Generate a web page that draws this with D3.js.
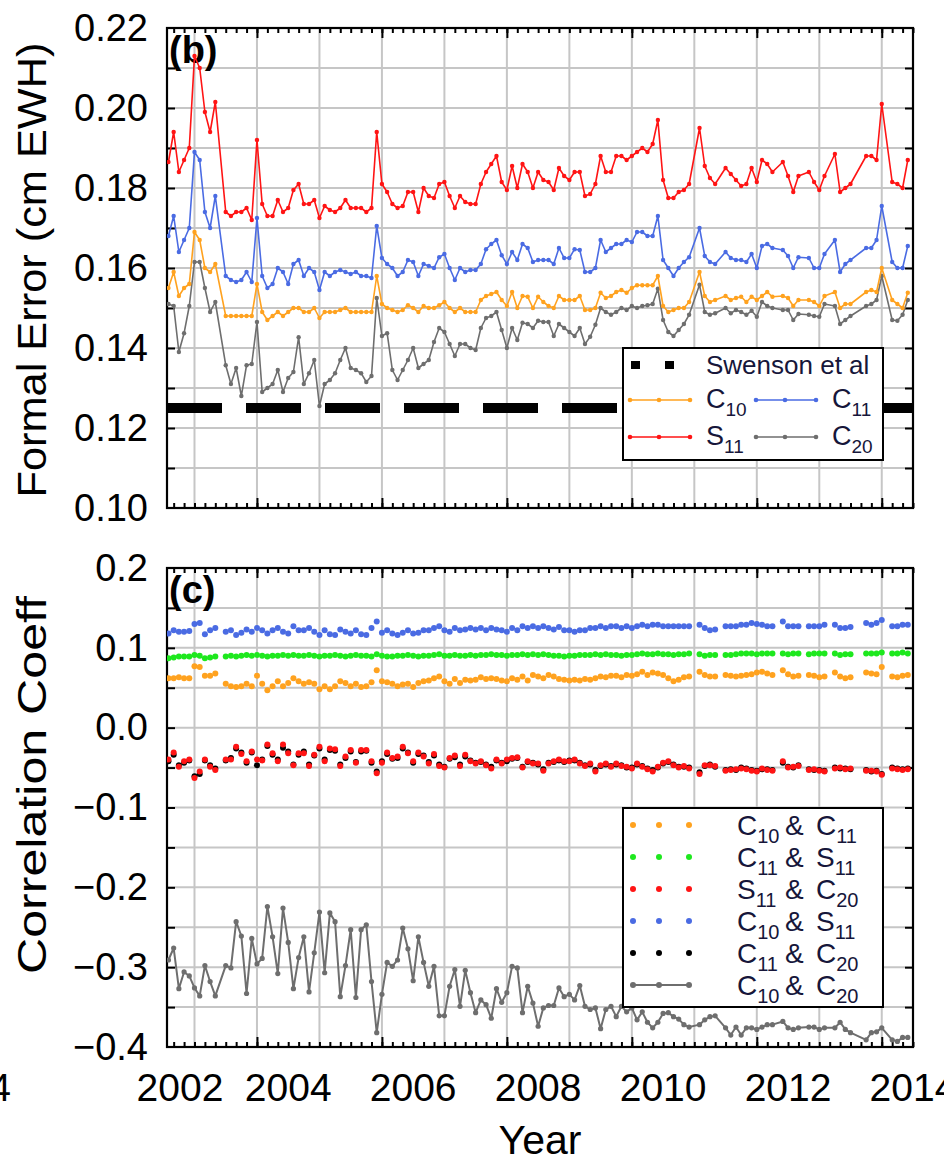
<!DOCTYPE html>
<html lang="en">
<head>
  <meta charset="UTF-8">
  <title>Formal error and correlation coefficients</title>
  <script src="https://d3js.org/d3.v7.min.js"></script>
  <style>
    body { margin: 0; background: #fff; }
    svg text { font-family: "Liberation Sans", Arial, sans-serif; }
  </style>
</head>
<body>
<svg width="944" height="1161"></svg>
<script>
  // GRACE months shown (gaps are the missing months)
  var months = [
    '2002-08','2002-09','2002-10','2002-11','2002-12',
    '2003-01','2003-02','2003-03','2003-04','2003-05','2003-07','2003-08','2003-09','2003-10','2003-11','2003-12',
    '2004-01','2004-02','2004-03','2004-04','2004-05','2004-06','2004-07','2004-08','2004-09','2004-10','2004-11','2004-12',
    '2005-01','2005-02','2005-03','2005-04','2005-05','2005-06','2005-07','2005-08','2005-09','2005-10','2005-11','2005-12',
    '2006-01','2006-02','2006-03','2006-04','2006-05','2006-06','2006-07','2006-08','2006-09','2006-10','2006-11','2006-12',
    '2007-01','2007-02','2007-03','2007-04','2007-05','2007-06','2007-07','2007-08','2007-09','2007-10','2007-11','2007-12',
    '2008-01','2008-02','2008-03','2008-04','2008-05','2008-06','2008-07','2008-08','2008-09','2008-10','2008-11','2008-12',
    '2009-01','2009-02','2009-03','2009-04','2009-05','2009-06','2009-07','2009-08','2009-09','2009-10','2009-11','2009-12',
    '2010-01','2010-02','2010-03','2010-04','2010-05','2010-06','2010-07','2010-08','2010-09','2010-10','2010-11','2010-12',
    '2011-02','2011-03','2011-04','2011-05','2011-07','2011-08','2011-09','2011-10','2011-11','2011-12',
    '2012-01','2012-02','2012-03','2012-04','2012-06','2012-07','2012-08','2012-09','2012-11','2012-12',
    '2013-01','2013-02','2013-04','2013-05','2013-06','2013-07','2013-10','2013-11','2013-12',
    '2014-01','2014-03','2014-04','2014-05','2014-06'
  ];

  // panel (b): formal error, cm EWH
  var errS11 = [
    .1865,.194,.184,.187,.190,.213,.210,.199,.194,.2015,
    .174,.173,.174,.174,.175,.172,.192,.176,.173,.173,
    .177,.174,.175,.1795,.181,.176,.176,.177,.1725,.1755,
    .1745,.174,.175,.177,.175,.175,.175,.174,.175,.194,
    .181,.179,.176,.175,.1755,.179,.179,.174,.180,.178,
    .1775,.181,.1815,.178,.175,.178,.1765,.176,.176,.181,
    .184,.186,.188,.1815,.1795,.1855,.180,.186,.184,.180,
    .184,.182,.1815,.1795,.185,.183,.182,.184,.184,.178,
    .1785,.181,.188,.184,.184,.188,.188,.187,.188,.189,
    .190,.189,.191,.197,.182,.1775,.1775,.179,.1795,.181,
    .195,.1855,.1825,.181,.185,.1835,.182,.1805,.181,.185,
    .1815,.187,.186,.184,.1865,.183,.179,.183,.184,.1815,
    .1795,.183,.1885,.179,.180,.181,.188,.188,.187,.201,
    .1815,.181,.180,.187
  ];
  var errC11 = [
    .168,.173,.164,.167,.170,.189,.187,.174,.170,.178,
    .158,.157,.1565,.157,.159,.1565,.1725,.158,.155,.156,
    .160,.159,.156,.161,.162,.158,.160,.159,.1545,.159,
    .158,.159,.1595,.159,.1585,.159,.158,.158,.1575,.1705,
    .1625,.161,.160,.158,.159,.162,.1615,.158,.161,.1605,
    .160,.1627,.1635,.160,.157,.160,.159,.1595,.1595,.161,
    .1647,.166,.167,.1632,.161,.164,.162,.166,.165,.1615,
    .162,.162,.162,.161,.165,.1625,.1625,.1647,.1645,.159,
    .159,.160,.167,.164,.165,.166,.166,.167,.1665,.169,
    .169,.168,.168,.173,.162,.160,.158,.160,.1615,.1627,
    .170,.163,.1615,.161,.164,.1625,.162,.162,.1615,.1635,
    .160,.1655,.166,.165,.1645,.163,.160,.1627,.1625,.160,
    .160,.1635,.167,.159,.161,.162,.165,.165,.167,.1755,
    .1615,.160,.160,.1655
  ];
  var errC10 = [
    .155,.159,.153,.155,.156,.169,.167,.160,.159,.161,
    .148,.148,.148,.148,.148,.148,.156,.149,.147,.148,
    .149,.148,.149,.150,.150,.149,.149,.150,.1475,.149,
    .149,.149,.1495,.150,.149,.149,.149,.149,.149,.158,
    .151,.150,.1495,.149,.1495,.1507,.150,.149,.1505,.150,
    .150,.1507,.1515,.150,.149,.150,.149,.149,.149,.152,
    .153,.1535,.154,.152,.1505,.154,.150,.153,.1528,.150,
    .1528,.1515,.1505,.150,.153,.152,.152,.152,.153,.1495,
    .1495,.150,.1538,.1525,.153,.154,.1545,.1538,.155,.1557,
    .1557,.1557,.1557,.158,.1505,.149,.1495,.150,.150,.1515,
    .159,.153,.1515,.152,.153,.152,.1525,.1528,.1515,.1528,
    .152,.153,.154,.1528,.153,.1525,.1505,.152,.152,.1515,
    .1505,.153,.154,.150,.151,.151,.154,.1545,.154,.160,
    .152,.151,.150,.1538
  ];
  var errC20 = [
    .151,.1505,.139,.1437,.1505,.1615,.1615,.155,.149,.1515,
    .1357,.131,.135,.128,.1357,.136,.1465,.129,.130,.131,
    .1345,.129,.1325,.134,.1427,.131,.1337,.137,.1255,.131,
    .132,.1337,.137,.140,.135,.1345,.1337,.1315,.133,.1525,
    .143,.1437,.1345,.132,.1345,.137,.140,.135,.136,.137,
    .1415,.145,.144,.141,.138,.141,.141,.140,.1395,.145,
    .1475,.148,.149,.1445,.140,.145,.142,.1463,.146,.145,
    .1468,.1465,.1465,.143,.146,.145,.144,.143,.145,.141,
    .1428,.1458,.150,.149,.1483,.149,.150,.1495,.1505,.150,
    .1505,.1507,.151,.1548,.147,.144,.143,.1445,.146,.1483,
    .1558,.149,.1483,.1487,.150,.1487,.1495,.149,.1483,.1493,
    .1478,.1515,.1505,.150,.1495,.1495,.147,.1485,.1483,.148,
    .1478,.151,.1505,.146,.147,.148,.1505,.151,.152,.158,
    .147,.1468,.1483,.152
  ];
  var swensonError = 0.125;

  // panel (c): correlation coefficients
  var corC10C11 = [
    0.062,0.062,0.063,0.062,0.062,0.077,0.076,0.065,0.065,0.068,
    0.055,0.052,0.051,0.052,0.055,0.052,0.065,0.055,0.047,0.052,
    0.058,0.052,0.056,0.062,0.058,0.055,0.057,0.055,0.048,0.052,
    0.048,0.052,0.058,0.056,0.052,0.055,0.051,0.052,0.057,0.072,
    0.058,0.057,0.055,0.052,0.054,0.055,0.051,0.056,0.058,0.059,
    0.062,0.064,0.058,0.055,0.061,0.056,0.060,0.059,0.060,0.063,
    0.061,0.062,0.061,0.059,0.058,0.062,0.060,0.064,0.059,0.066,
    0.064,0.062,0.066,0.064,0.061,0.060,0.059,0.060,0.059,0.061,
    0.060,0.062,0.064,0.063,0.065,0.065,0.063,0.066,0.065,0.067,
    0.070,0.066,0.069,0.068,0.066,0.062,0.058,0.060,0.063,0.064,
    0.070,0.066,0.064,0.064,0.066,0.065,0.064,0.065,0.066,0.067,
    0.069,0.070,0.068,0.066,0.072,0.067,0.064,0.065,0.066,0.065,
    0.063,0.064,0.069,0.064,0.062,0.063,0.069,0.068,0.067,0.076,
    0.064,0.063,0.065,0.066
  ];
  var corC11S11 = [
    0.087,0.088,0.089,0.089,0.089,0.091,0.090,0.087,0.088,0.089,
    0.089,0.090,0.089,0.090,0.091,0.090,0.091,0.090,0.089,0.090,
    0.090,0.091,0.090,0.091,0.090,0.090,0.091,0.090,0.089,0.090,
    0.090,0.091,0.090,0.089,0.090,0.091,0.090,0.090,0.089,0.092,
    0.090,0.089,0.089,0.090,0.090,0.091,0.090,0.089,0.090,0.090,
    0.091,0.092,0.090,0.090,0.091,0.090,0.090,0.091,0.090,0.091,
    0.091,0.092,0.091,0.091,0.090,0.091,0.091,0.092,0.091,0.092,
    0.091,0.092,0.091,0.090,0.090,0.089,0.090,0.090,0.091,0.091,
    0.091,0.092,0.091,0.092,0.091,0.091,0.090,0.091,0.091,0.092,
    0.093,0.092,0.092,0.093,0.092,0.092,0.091,0.092,0.092,0.093,
    0.092,0.090,0.091,0.091,0.091,0.091,0.092,0.093,0.093,0.093,
    0.092,0.093,0.093,0.093,0.093,0.092,0.093,0.093,0.092,0.093,
    0.093,0.093,0.093,0.091,0.092,0.092,0.093,0.093,0.093,0.094,
    0.093,0.093,0.094,0.093
  ];
  var corS11C20 = [
    -0.040,-0.031,-0.049,-0.042,-0.040,-0.063,-0.055,-0.040,-0.049,-0.053,
    -0.040,-0.040,-0.024,-0.033,-0.042,-0.030,-0.040,-0.041,-0.021,-0.032,
    -0.042,-0.021,-0.032,-0.047,-0.032,-0.032,-0.048,-0.034,-0.024,-0.042,
    -0.026,-0.027,-0.048,-0.036,-0.028,-0.044,-0.028,-0.028,-0.042,-0.057,
    -0.044,-0.031,-0.038,-0.036,-0.024,-0.032,-0.042,-0.031,-0.036,-0.045,
    -0.033,-0.048,-0.050,-0.038,-0.035,-0.048,-0.034,-0.042,-0.045,-0.042,
    -0.047,-0.051,-0.040,-0.045,-0.040,-0.038,-0.037,-0.050,-0.042,-0.045,
    -0.045,-0.054,-0.045,-0.042,-0.040,-0.042,-0.042,-0.040,-0.045,-0.048,
    -0.045,-0.055,-0.047,-0.045,-0.049,-0.045,-0.048,-0.049,-0.051,-0.045,
    -0.049,-0.052,-0.055,-0.049,-0.044,-0.042,-0.047,-0.050,-0.048,-0.051,
    -0.058,-0.047,-0.047,-0.048,-0.054,-0.053,-0.052,-0.051,-0.052,-0.054,
    -0.055,-0.051,-0.053,-0.054,-0.042,-0.050,-0.049,-0.048,-0.053,-0.052,
    -0.054,-0.055,-0.051,-0.050,-0.052,-0.051,-0.054,-0.054,-0.055,-0.059,
    -0.051,-0.052,-0.053,-0.052
  ];
  var corC10S11 = [
    0.118,0.122,0.120,0.120,0.121,0.130,0.131,0.117,0.122,0.125,
    0.120,0.122,0.116,0.119,0.123,0.120,0.125,0.122,0.118,0.122,
    0.125,0.120,0.118,0.127,0.122,0.122,0.125,0.120,0.116,0.122,
    0.117,0.116,0.123,0.120,0.118,0.122,0.117,0.116,0.125,0.133,
    0.119,0.122,0.118,0.116,0.119,0.122,0.118,0.119,0.122,0.122,
    0.125,0.127,0.122,0.120,0.125,0.122,0.123,0.125,0.123,0.125,
    0.122,0.125,0.123,0.122,0.120,0.125,0.122,0.127,0.125,0.127,
    0.125,0.127,0.125,0.123,0.126,0.122,0.122,0.120,0.122,0.122,
    0.125,0.125,0.127,0.125,0.127,0.127,0.125,0.127,0.125,0.127,
    0.129,0.127,0.129,0.129,0.127,0.127,0.127,0.127,0.127,0.127,
    0.129,0.125,0.122,0.123,0.127,0.127,0.127,0.129,0.129,0.131,
    0.130,0.129,0.127,0.127,0.133,0.127,0.127,0.127,0.127,0.127,
    0.127,0.129,0.129,0.125,0.125,0.126,0.131,0.129,0.131,0.135,
    0.127,0.127,0.129,0.129
  ];
  var corC11C20 = [
    -0.042,-0.034,-0.047,-0.044,-0.041,-0.061,-0.058,-0.041,-0.047,-0.051,
    -0.041,-0.038,-0.026,-0.031,-0.044,-0.031,-0.047,-0.040,-0.023,-0.034,
    -0.040,-0.025,-0.030,-0.046,-0.034,-0.030,-0.046,-0.035,-0.026,-0.040,
    -0.028,-0.029,-0.046,-0.038,-0.030,-0.043,-0.030,-0.029,-0.044,-0.055,
    -0.042,-0.033,-0.039,-0.038,-0.026,-0.031,-0.044,-0.033,-0.035,-0.043,
    -0.035,-0.046,-0.049,-0.039,-0.037,-0.046,-0.036,-0.041,-0.044,-0.043,
    -0.046,-0.049,-0.041,-0.044,-0.042,-0.039,-0.038,-0.049,-0.043,-0.044,
    -0.046,-0.052,-0.044,-0.043,-0.041,-0.043,-0.041,-0.041,-0.044,-0.047,
    -0.046,-0.053,-0.048,-0.046,-0.048,-0.046,-0.047,-0.050,-0.050,-0.046,
    -0.048,-0.051,-0.053,-0.050,-0.045,-0.043,-0.046,-0.049,-0.049,-0.050,
    -0.056,-0.048,-0.046,-0.049,-0.053,-0.052,-0.053,-0.050,-0.051,-0.053,
    -0.054,-0.052,-0.052,-0.053,-0.044,-0.049,-0.050,-0.047,-0.052,-0.053,
    -0.053,-0.054,-0.050,-0.051,-0.051,-0.052,-0.053,-0.055,-0.054,-0.058,
    -0.050,-0.051,-0.052,-0.051
  ];
  var corC10C20 = [
    -0.291,-0.276,-0.327,-0.306,-0.311,-0.326,-0.336,-0.298,-0.318,-0.336,
    -0.298,-0.301,-0.243,-0.261,-0.333,-0.264,-0.296,-0.289,-0.224,-0.262,
    -0.308,-0.226,-0.269,-0.327,-0.288,-0.262,-0.331,-0.282,-0.231,-0.307,
    -0.232,-0.243,-0.337,-0.298,-0.253,-0.338,-0.253,-0.247,-0.318,-0.382,
    -0.334,-0.294,-0.299,-0.291,-0.251,-0.277,-0.317,-0.262,-0.294,-0.324,
    -0.299,-0.361,-0.361,-0.324,-0.303,-0.349,-0.304,-0.332,-0.357,-0.341,
    -0.347,-0.364,-0.327,-0.344,-0.332,-0.299,-0.301,-0.357,-0.324,-0.345,
    -0.374,-0.351,-0.348,-0.348,-0.326,-0.337,-0.334,-0.341,-0.323,-0.349,
    -0.353,-0.351,-0.377,-0.353,-0.349,-0.362,-0.349,-0.356,-0.351,-0.366,
    -0.356,-0.369,-0.376,-0.369,-0.358,-0.357,-0.362,-0.365,-0.372,-0.375,
    -0.372,-0.366,-0.362,-0.361,-0.376,-0.385,-0.375,-0.385,-0.376,-0.376,
    -0.378,-0.375,-0.372,-0.372,-0.368,-0.376,-0.378,-0.376,-0.375,-0.375,
    -0.378,-0.376,-0.376,-0.369,-0.378,-0.382,-0.391,-0.382,-0.381,-0.376,
    -0.391,-0.393,-0.388,-0.388
  ];

  var yearLabels = [2002, 2004, 2006, 2008, 2010, 2012, 2014];
  var errTicks = [0.10, 0.12, 0.14, 0.16, 0.18, 0.20, 0.22];
  var corTicks = [-0.4, -0.3, -0.2, -0.1, 0.0, 0.1, 0.2];

  var colors = {orange: '#ffa21f', blue: '#4a6be3', red: '#ff1414', gray: '#6e6e6e', green: '#1ee81e', black: '#000'};

  var svg = d3.select('svg');
  var x = d3.scaleLinear().domain([2002.56, 2014.5]).range([167, 913]);
  var yErr = d3.scaleLinear().domain([0.10, 0.22]).range([508, 28]);
  var yCor = d3.scaleLinear().domain([-0.4, 0.2]).range([1047, 568]);

  var t = months.map(function (s) {
    var p = s.split('-');
    return +p[0] + (+p[1] - 1) / 12;
  });

  var gridYears = d3.range(2003, 2015);
  var majorX = d3.range(2004, 2015, 2);
  var minorX = d3.range(Math.ceil(2002.56 * 6), Math.floor(2014.5 * 6) + 1).map(function (k) { return k / 6; });

  function panel(y, step, labels, fmt, name) {
    var top = y.range()[1], bottom = y.range()[0];
    var left = x.range()[0], right = x.range()[1];
    var gridY = d3.range(Math.round(y.domain()[0] / step) + 1, Math.round(y.domain()[1] / step)).map(function (k) { return k * step; });
    var g = svg.append('g');

    g.selectAll('line.vg').data(gridYears).enter().append('line')
      .attr('x1', function (d) { return x(d); }).attr('x2', function (d) { return x(d); })
      .attr('y1', top).attr('y2', bottom)
      .attr('stroke', '#c6c6c6').attr('stroke-width', 2);
    g.selectAll('line.hg').data(gridY).enter().append('line')
      .attr('x1', left).attr('x2', right)
      .attr('y1', function (d) { return y(d); }).attr('y2', function (d) { return y(d); })
      .attr('stroke', '#c6c6c6').attr('stroke-width', 2);

    var tickAxes = [
      [d3.axisTop(x).tickValues(minorX).tickSize(5), 'translate(0,' + bottom + ')'],
      [d3.axisTop(x).tickValues(majorX).tickSize(10), 'translate(0,' + bottom + ')'],
      [d3.axisBottom(x).tickValues(minorX).tickSize(5), 'translate(0,' + top + ')'],
      [d3.axisBottom(x).tickValues(majorX).tickSize(10), 'translate(0,' + top + ')'],
      [d3.axisRight(y).tickValues(gridY).tickSize(8), 'translate(' + left + ',0)'],
      [d3.axisLeft(y).tickValues(gridY).tickSize(8), 'translate(' + right + ',0)']
    ];
    tickAxes.forEach(function (a) {
      var ag = g.append('g').attr('transform', a[1]).call(a[0].tickFormat(''));
      ag.select('.domain').remove();
      ag.selectAll('line').attr('stroke-width', 2);
    });

    g.append('rect')
      .attr('x', left).attr('y', top).attr('width', right - left).attr('height', bottom - top)
      .attr('fill', 'none').attr('stroke', '#000').attr('stroke-width', 2.2);

    var lab = g.append('g').attr('transform', 'translate(' + left + ',0)')
      .call(d3.axisLeft(y).tickValues(labels).tickFormat(fmt).tickSize(0).tickPadding(19));
    lab.select('.domain').remove();
    lab.selectAll('text').attr('font-size', 38).attr('fill', '#000')
      .style('font-family', '"Liberation Sans", Arial, sans-serif');

    g.append('text').attr('x', 169).attr('y', top + 35)
      .attr('font-size', 38).attr('font-weight', 'bold').text(name);

    svg.append('clipPath').attr('id', 'clip' + top).append('rect')
      .attr('x', left).attr('y', top).attr('width', right - left).attr('height', bottom - top);
    return svg.append('g').attr('clip-path', 'url(#clip' + top + ')');
  }

  function lineSeries(g, y, vals, color, r, w) {
    var line = d3.line()
      .x(function (d, i) { return x(t[i]); })
      .y(function (d) { return y(d); });
    g.append('path').datum(vals)
      .attr('fill', 'none').attr('stroke', color).attr('stroke-width', w)
      .attr('stroke-linejoin', 'round').attr('d', line);
    dotSeries(g, y, vals, color, r);
  }

  function dotSeries(g, y, vals, color, r) {
    g.append('g').selectAll('circle').data(vals).enter().append('circle')
      .attr('cx', function (d, i) { return x(t[i]); })
      .attr('cy', function (d) { return y(d); })
      .attr('r', r).attr('fill', color);
  }

  // ---- panel (b)
  var pb = panel(yErr, 0.01, errTicks, d3.format('.2f'), '(b)');
  pb.append('line')
    .attr('x1', x.range()[0]).attr('x2', x.range()[1])
    .attr('y1', yErr(swensonError)).attr('y2', yErr(swensonError))
    .attr('stroke', '#000').attr('stroke-width', 10).attr('stroke-dasharray', '55,24');
  lineSeries(pb, yErr, errC20, colors.gray, 2.2, 1.6);
  lineSeries(pb, yErr, errC10, colors.orange, 2.2, 1.6);
  lineSeries(pb, yErr, errC11, colors.blue, 2.2, 1.6);
  lineSeries(pb, yErr, errS11, colors.red, 2.2, 1.6);

  // ---- panel (c)
  var pc = panel(yCor, 0.05, corTicks, d3.format('.1f'), '(c)');
  dotSeries(pc, yCor, corC10C11, colors.orange, 3);
  dotSeries(pc, yCor, corC11S11, colors.green, 3);
  dotSeries(pc, yCor, corC11C20, colors.black, 3);
  dotSeries(pc, yCor, corS11C20, colors.red, 3);
  dotSeries(pc, yCor, corC10S11, colors.blue, 3);
  lineSeries(pc, yCor, corC10C20, colors.gray, 2.6, 2);

  // x labels sit half a year right of their ticks, as in the figure;
  // the first one is kept clear of the -0.4 label
  svg.append('g').selectAll('text').data(yearLabels).enter().append('text')
    .attr('x', function (d) { return Math.max(x(d + 0.5), 180); })
    .attr('y', 1101).attr('text-anchor', 'middle').attr('font-size', 39)
    .text(function (d) { return d; });
  svg.append('text').attr('x', 11).attr('y', 1101).attr('text-anchor', 'end')
    .attr('font-size', 39).text('2014');
  svg.append('text').attr('x', 540).attr('y', 1154).attr('text-anchor', 'middle')
    .attr('font-size', 41).text('Year');

  // y titles (stretched along their length like the figure)
  svg.append('text').attr('transform', 'translate(46,270) rotate(-90)')
    .attr('text-anchor', 'middle').attr('font-size', 41)
    .attr('textLength', 455).attr('lengthAdjust', 'spacingAndGlyphs')
    .text('Formal Error (cm EWH)');
  svg.append('text').attr('transform', 'translate(46,785) rotate(-90)')
    .attr('text-anchor', 'middle').attr('font-size', 41)
    .attr('textLength', 378).attr('lengthAdjust', 'spacingAndGlyphs')
    .text('Correlation Coeff');

  // ---- legend (b)
  var legTextColor = '#16163a';
  var lb = svg.append('g');
  lb.append('rect').attr('x', 623).attr('y', 348).attr('width', 260).attr('height', 112)
    .attr('fill', '#fff').attr('stroke', '#000').attr('stroke-width', 2);
  [631, 665].forEach(function (px) {
    lb.append('rect').attr('x', px).attr('y', 361).attr('width', 9).attr('height', 8).attr('fill', '#000');
  });
  lb.append('text').attr('x', 706).attr('y', 374).attr('font-size', 26).attr('fill', legTextColor).text('Swenson et al');

  var errLegend = [
    {sym: 'C', sub: '10', color: colors.orange, col: 0, row: 0},
    {sym: 'C', sub: '11', color: colors.blue, col: 1, row: 0},
    {sym: 'S', sub: '11', color: colors.red, col: 0, row: 1},
    {sym: 'C', sub: '20', color: colors.gray, col: 1, row: 1}
  ];
  errLegend.forEach(function (e) {
    var x0 = 630 + e.col * 126, yy = 400 + e.row * 37;
    lb.append('line').attr('x1', x0).attr('x2', x0 + 60).attr('y1', yy).attr('y2', yy)
      .attr('stroke', e.color).attr('stroke-width', 1.6);
    [0, 29, 60].forEach(function (dx) {
      lb.append('circle').attr('cx', x0 + dx).attr('cy', yy).attr('r', 2.3).attr('fill', e.color);
    });
    var tx = lb.append('text').attr('x', x0 + 76).attr('y', yy + 8).attr('font-size', 27).attr('fill', legTextColor);
    tx.append('tspan').text(e.sym);
    tx.append('tspan').attr('dy', 8).attr('font-size', 19).text(e.sub);
  });

  // ---- legend (c)
  var corLegend = [
    {a: ['C', '10'], b: ['C', '11'], color: colors.orange, line: false},
    {a: ['C', '11'], b: ['S', '11'], color: colors.green, line: false},
    {a: ['S', '11'], b: ['C', '20'], color: colors.red, line: false},
    {a: ['C', '10'], b: ['S', '11'], color: colors.blue, line: false},
    {a: ['C', '11'], b: ['C', '20'], color: colors.black, line: false},
    {a: ['C', '10'], b: ['C', '20'], color: colors.gray, line: true}
  ];
  var lc = svg.append('g');
  lc.append('rect').attr('x', 623).attr('y', 808).attr('width', 260).attr('height', 199)
    .attr('fill', '#fff').attr('stroke', '#000').attr('stroke-width', 2);
  corLegend.forEach(function (e, i) {
    var yy = 825 + i * 32;
    if (e.line) {
      lc.append('line').attr('x1', 633).attr('x2', 689).attr('y1', yy).attr('y2', yy)
        .attr('stroke', e.color).attr('stroke-width', 2);
    }
    [633, 659, 689].forEach(function (px) {
      lc.append('circle').attr('cx', px).attr('cy', yy).attr('r', 3).attr('fill', e.color);
    });
    var tx = lc.append('text').attr('x', 737).attr('y', yy + 10).attr('font-size', 28).attr('fill', legTextColor);
    tx.append('tspan').text(e.a[0]);
    tx.append('tspan').attr('dy', 8).attr('font-size', 20).text(e.a[1]);
    tx.append('tspan').attr('x', 785).attr('dy', -8).text('&');
    tx.append('tspan').attr('x', 816).text(e.b[0]);
    tx.append('tspan').attr('dy', 8).attr('font-size', 20).text(e.b[1]);
  });
</script>
</body>
</html>
